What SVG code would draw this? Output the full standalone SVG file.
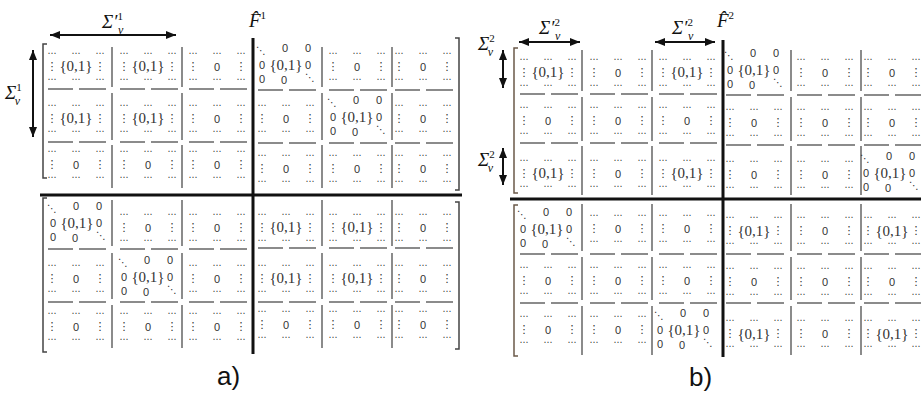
<svg xmlns="http://www.w3.org/2000/svg" width="921" height="399" viewBox="0 0 921 399">
<style>
.o{font-family:"DejaVu Sans",sans-serif;font-size:9px;fill:#333;text-anchor:middle;dominant-baseline:central}
.vd{font-size:11px}
.dg{font-size:10px}
.z{font-family:"Liberation Sans",sans-serif;font-size:11px;fill:#333;text-anchor:middle;dominant-baseline:central}
.s{font-family:"Liberation Serif",serif;font-size:15px;fill:#333;text-anchor:middle;dominant-baseline:central}
.m{font-family:"Liberation Serif",serif;font-style:italic;fill:#111}
.up{font-style:normal}
.sep{stroke:#666;stroke-width:1.5;fill:none}
.dash{stroke:#666;stroke-width:1.5;fill:none}
.thick{stroke:#111;stroke-width:3;fill:none}
.br{fill:none;stroke:#444;stroke-width:1.5}
.brb{fill:none;stroke:#6b5a4a;stroke-width:1.5}
.arr{stroke:#111;stroke-width:2;fill:none;marker-start:url(#ah);marker-end:url(#ah)}
.lab{font-family:"Liberation Sans",sans-serif;font-size:26px;fill:#111}
</style>
<defs>
<marker id="ah" viewBox="0 0 10 8" refX="10" refY="4" markerWidth="10" markerHeight="8" markerUnits="userSpaceOnUse" orient="auto-start-reverse"><path d="M0 0L10 4L0 8z" fill="#111"/></marker>
<g id="nb">
<text class="o" x="-24" y="-13">⋯</text><text class="o" x="0" y="-13">⋯</text><text class="o" x="24" y="-13">⋯</text>
<text class="o vd" x="-24" y="0">⋮</text><text class="o vd" x="24" y="0">⋮</text>
<text class="o" x="-24" y="13">⋯</text><text class="o" x="0" y="13">⋯</text><text class="o" x="24" y="13">⋯</text>
</g>
<g id="db">
<text class="o dg" x="-25" y="-15">⋱</text><text class="z" x="-1" y="-17">0</text><text class="z" x="22" y="-17">0</text>
<text class="z" x="-24" y="0">0</text><text class="z" x="22" y="0">0</text>
<text class="z" x="-24" y="14">0</text><text class="z" x="-2" y="15">0</text><text class="o dg" x="24" y="12">⋱</text>
</g>
<path id="dp" class="dash" d="M-28 0H-3M3 0H30"/>
</defs>

<g id="panel-a">
<g id="labels-a">
<text class="m" x="102" y="28" font-size="19">Σ′<tspan class="up" font-size="11" dy="-8">1</tspan><tspan font-size="12" dx="-5" dy="14">v</tspan></text>
<text class="m" x="5" y="99" font-size="19">Σ<tspan class="up" font-size="11" dy="-8">1</tspan><tspan font-size="12" dx="-7" dy="14">v</tspan></text>
<text class="m" x="249" y="27" font-size="19">F̂<tspan class="up" font-size="11" dy="-8">1</tspan></text>
<text class="lab" x="217" y="385">a)</text>
</g>
<g id="arrows-a">
<line class="arr" x1="50" y1="35" x2="176" y2="35"/>
<line class="arr" x1="33" y1="50" x2="33" y2="137"/>
</g>
<g id="frame-a">
<path class="br" d="M47 44H43V178H47M47 198H43V352H47"/>
<path class="br" d="M455 38H459V190H455M455 202H459V349H455"/>
<path class="sep" d="M112 47V87M182 47V87M322 47V87M392 47V87M112 93V140M182 93V140M322 93V140M392 93V140M112 145V188M182 145V188M322 145V188M392 145V188M112 200V246M182 200V246M322 200V246M392 200V246M112 253V299M182 253V299M322 253V299M392 253V299M112 305V348M182 305V348M322 305V348M392 305V348"/>
<use href="#dp" x="76" y="89"/><use href="#dp" x="148" y="89"/><use href="#dp" x="217" y="89"/><use href="#dp" x="286" y="90"/><use href="#dp" x="357" y="90"/><use href="#dp" x="423" y="90"/>
<use href="#dp" x="76" y="142"/><use href="#dp" x="148" y="142"/><use href="#dp" x="217" y="142"/><use href="#dp" x="286" y="143"/><use href="#dp" x="357" y="143"/><use href="#dp" x="423" y="143"/>
<use href="#dp" x="76" y="249"/><use href="#dp" x="148" y="249"/><use href="#dp" x="217" y="249"/><use href="#dp" x="286" y="248"/><use href="#dp" x="357" y="248"/><use href="#dp" x="423" y="248"/>
<use href="#dp" x="76" y="302"/><use href="#dp" x="148" y="302"/><use href="#dp" x="217" y="302"/><use href="#dp" x="286" y="302"/><use href="#dp" x="357" y="302"/><use href="#dp" x="423" y="302"/>
<path class="thick" d="M253 38V354M40 195H462"/>
</g>
<g id="blocks-a">
<use href="#nb" x="76" y="66"/><use href="#nb" x="148" y="66"/><use href="#nb" x="217" y="66"/><use href="#db" x="286" y="65"/><use href="#nb" x="357" y="66"/><use href="#nb" x="423" y="66"/>
<text class="s" x="76" y="66">{0,1}</text><text class="s" x="148" y="66">{0,1}</text><text class="z" x="217" y="67">0</text><text class="s" x="286" y="65">{0,1}</text><text class="z" x="357" y="67">0</text><text class="z" x="423" y="67">0</text>
<use href="#nb" x="76" y="118"/><use href="#nb" x="148" y="118"/><use href="#nb" x="217" y="118"/><use href="#nb" x="286" y="118"/><use href="#db" x="357" y="117"/><use href="#nb" x="423" y="118"/>
<text class="s" x="76" y="118">{0,1}</text><text class="s" x="148" y="118">{0,1}</text><text class="z" x="217" y="119">0</text><text class="z" x="286" y="119">0</text><text class="s" x="357" y="117">{0,1}</text><text class="z" x="423" y="119">0</text>
<use href="#nb" x="76" y="164"/><use href="#nb" x="148" y="164"/><use href="#nb" x="217" y="164"/><use href="#nb" x="286" y="168"/><use href="#nb" x="357" y="168"/><use href="#nb" x="423" y="168"/>
<text class="z" x="76" y="165">0</text><text class="z" x="148" y="165">0</text><text class="z" x="217" y="165">0</text><text class="z" x="286" y="169">0</text><text class="z" x="357" y="169">0</text><text class="z" x="423" y="169">0</text>
<use href="#db" x="77" y="223"/><use href="#nb" x="148" y="227"/><use href="#nb" x="217" y="227"/><use href="#nb" x="286" y="227"/><use href="#nb" x="357" y="227"/><use href="#nb" x="423" y="227"/>
<text class="s" x="77" y="223">{0,1}</text><text class="z" x="148" y="228">0</text><text class="z" x="217" y="228">0</text><text class="s" x="286" y="227">{0,1}</text><text class="s" x="357" y="227">{0,1}</text><text class="z" x="423" y="228">0</text>
<use href="#nb" x="76" y="278"/><use href="#db" x="148" y="277"/><use href="#nb" x="217" y="278"/><use href="#nb" x="286" y="278"/><use href="#nb" x="357" y="278"/><use href="#nb" x="423" y="278"/>
<text class="z" x="76" y="279">0</text><text class="s" x="148" y="277">{0,1}</text><text class="z" x="217" y="279">0</text><text class="s" x="286" y="278">{0,1}</text><text class="s" x="357" y="278">{0,1}</text><text class="z" x="423" y="279">0</text>
<use href="#nb" x="76" y="326"/><use href="#nb" x="148" y="326"/><use href="#nb" x="217" y="326"/><use href="#nb" x="286" y="324"/><use href="#nb" x="357" y="324"/><use href="#nb" x="423" y="324"/>
<text class="z" x="76" y="327">0</text><text class="z" x="148" y="327">0</text><text class="z" x="217" y="327">0</text><text class="z" x="286" y="325">0</text><text class="z" x="357" y="325">0</text><text class="z" x="423" y="325">0</text>
</g>
</g>

<g id="panel-b">
<g id="labels-b">
<text class="m" x="539" y="34" font-size="19">Σ′<tspan class="up" font-size="11" dy="-8">2</tspan><tspan font-size="12" dx="-5" dy="14">v</tspan></text>
<text class="m" x="672" y="34" font-size="19">Σ′<tspan class="up" font-size="11" dy="-8">2</tspan><tspan font-size="12" dx="-5" dy="14">v</tspan></text>
<text class="m" x="478" y="50" font-size="19">Σ<tspan class="up" font-size="11" dy="-8">2</tspan><tspan font-size="12" dx="-7" dy="14">v</tspan></text>
<text class="m" x="478" y="166" font-size="19">Σ<tspan class="up" font-size="11" dy="-8">2</tspan><tspan font-size="12" dx="-7" dy="14">v</tspan></text>
<text class="m" x="717" y="27" font-size="19">F̂<tspan class="up" font-size="11" dy="-8">2</tspan></text>
<text class="lab" x="689" y="386">b)</text>
</g>
<g id="arrows-b">
<line class="arr" x1="519" y1="42" x2="580" y2="42"/>
<line class="arr" x1="655" y1="42" x2="715" y2="42"/>
<line class="arr" x1="503" y1="50" x2="503" y2="88"/>
<line class="arr" x1="503" y1="148" x2="503" y2="185"/>
</g>
<g id="frame-b">
<path class="brb" d="M518 48H514V193H518M518 205H514V356H518"/>
<path class="sep" d="M582 50V91M652 50V91M791 50V91M861 50V91M582 97V141M652 97V141M791 97V141M861 97V141M582 146V195M652 146V195M791 146V195M861 146V195M582 204V251M652 204V251M791 204V251M861 204V251M582 257V300M652 257V300M791 257V300M861 257V300M582 306V355M652 306V355M791 306V355M861 306V355"/>
<use href="#dp" x="548" y="94"/><use href="#dp" x="618" y="94"/><use href="#dp" x="687" y="94"/><use href="#dp" x="754" y="95"/><use href="#dp" x="825" y="95"/><use href="#dp" x="892" y="95"/>
<use href="#dp" x="548" y="143"/><use href="#dp" x="618" y="143"/><use href="#dp" x="687" y="143"/><use href="#dp" x="754" y="145"/><use href="#dp" x="825" y="145"/><use href="#dp" x="892" y="145"/>
<use href="#dp" x="548" y="254"/><use href="#dp" x="618" y="254"/><use href="#dp" x="687" y="254"/><use href="#dp" x="754" y="254"/><use href="#dp" x="825" y="254"/><use href="#dp" x="892" y="254"/>
<use href="#dp" x="548" y="303"/><use href="#dp" x="618" y="303"/><use href="#dp" x="687" y="303"/><use href="#dp" x="754" y="303"/><use href="#dp" x="825" y="303"/><use href="#dp" x="892" y="303"/>
<path class="thick" d="M723 40V357M510 199H921"/>
</g>
<g id="blocks-b">
<use href="#nb" x="548" y="72"/><use href="#nb" x="618" y="72"/><use href="#nb" x="687" y="72"/><use href="#db" x="754" y="70"/><use href="#nb" x="825" y="72"/><use href="#nb" x="892" y="72"/>
<text class="s" x="548" y="72">{0,1}</text><text class="z" x="618" y="73">0</text><text class="s" x="687" y="72">{0,1}</text><text class="s" x="754" y="70">{0,1}</text><text class="z" x="825" y="73">0</text><text class="z" x="892" y="73">0</text>
<use href="#nb" x="548" y="120"/><use href="#nb" x="618" y="120"/><use href="#nb" x="687" y="120"/><use href="#nb" x="754" y="122"/><use href="#nb" x="825" y="122"/><use href="#nb" x="892" y="122"/>
<text class="z" x="548" y="121">0</text><text class="z" x="618" y="121">0</text><text class="z" x="687" y="121">0</text><text class="z" x="754" y="123">0</text><text class="z" x="825" y="123">0</text><text class="z" x="892" y="123">0</text>
<use href="#nb" x="548" y="173"/><use href="#nb" x="618" y="173"/><use href="#nb" x="687" y="173"/><use href="#nb" x="754" y="174"/><use href="#nb" x="825" y="174"/><use href="#db" x="890" y="173"/>
<text class="s" x="548" y="173">{0,1}</text><text class="z" x="618" y="174">0</text><text class="s" x="687" y="173">{0,1}</text><text class="z" x="754" y="175">0</text><text class="z" x="825" y="175">0</text><text class="s" x="890" y="173">{0,1}</text>
<use href="#db" x="547" y="229"/><use href="#nb" x="618" y="228"/><use href="#nb" x="687" y="228"/><use href="#nb" x="754" y="230"/><use href="#nb" x="825" y="230"/><use href="#nb" x="892" y="230"/>
<text class="s" x="547" y="229">{0,1}</text><text class="z" x="618" y="229">0</text><text class="z" x="687" y="229">0</text><text class="s" x="754" y="231">{0,1}</text><text class="z" x="825" y="231">0</text><text class="s" x="892" y="231">{0,1}</text>
<use href="#nb" x="548" y="280"/><use href="#nb" x="618" y="280"/><use href="#nb" x="687" y="280"/><use href="#nb" x="754" y="281"/><use href="#nb" x="825" y="281"/><use href="#nb" x="892" y="281"/>
<text class="z" x="548" y="281">0</text><text class="z" x="618" y="281">0</text><text class="z" x="687" y="281">0</text><text class="z" x="754" y="282">0</text><text class="z" x="825" y="282">0</text><text class="z" x="892" y="282">0</text>
<use href="#nb" x="548" y="329"/><use href="#nb" x="618" y="329"/><use href="#db" x="684" y="330"/><use href="#nb" x="754" y="333"/><use href="#nb" x="825" y="333"/><use href="#nb" x="892" y="333"/>
<text class="z" x="548" y="330">0</text><text class="z" x="618" y="330">0</text><text class="s" x="684" y="330">{0,1}</text><text class="s" x="754" y="334">{0,1}</text><text class="z" x="825" y="334">0</text><text class="s" x="892" y="334">{0,1}</text>
</g>
</g>
</svg>
